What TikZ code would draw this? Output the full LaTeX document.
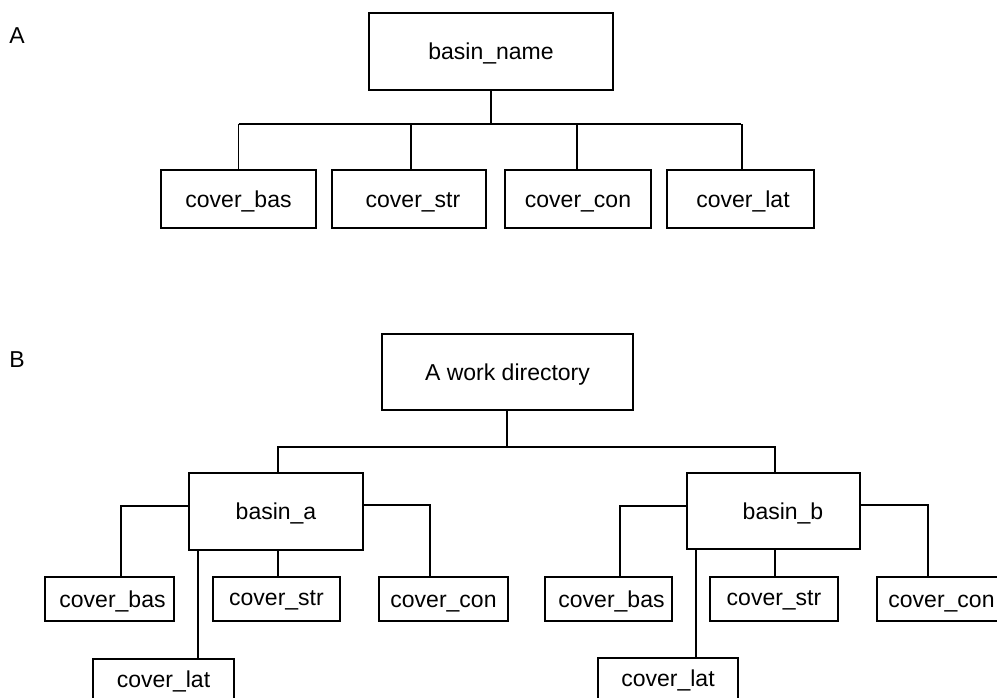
\documentclass[tikz,border=0pt]{standalone}
\usepackage{fontspec}
\setmainfont{Liberation Sans}
\begin{document}
\begin{tikzpicture}[x=1pt,y=-1pt,
  box/.style={draw=black,line width=1.6pt,inner sep=0pt,minimum width=#1,text height=16.5pt,text depth=0pt,font=\fontsize{23}{27}\selectfont},
  conn/.style={draw=black,line width=1.1pt},
  lbl/.style={font=\fontsize{23}{27}\selectfont,inner sep=0pt}]
\useasboundingbox (0,0) rectangle (997,697);
\clip (0,0) rectangle (997,697);
\fill[white] (0,0) rectangle (997,697);
% Part A
\node[lbl] (lblA) at (17,36) {A};
\node[box=244pt,minimum height=77pt] (bn) at (491,51.5) {basin\_name};
\node[box=155pt,minimum height=58pt] (cbas) at (238.5,199) {cover\_bas};
\node[box=154pt,minimum height=58pt] (cstr) at (409,199) {\hspace*{8pt}cover\_str};
\node[box=146pt,minimum height=58pt] (ccon) at (578,199) {cover\_con};
\node[box=147pt,minimum height=58pt] (clat) at (740.5,199) {\hspace*{5pt}cover\_lat};
\coordinate (busA) at (491,124);
\draw[conn] (bn.south) -- (busA);
\draw[conn] (cbas.north |- busA) -- (busA -| clat.north);
\draw[conn] (cbas.north |- busA) -- (cbas.north);
\draw[conn] (busA -| 411,0) -- (cstr.north -| 411,0);
\draw[conn] (busA -| 577,0) -- (ccon.north -| 577,0);
\draw[conn] (busA -| 742,0) -- (clat.north -| 742,0);
% Part B
\node[lbl] (lblB) at (17,360) {B};
\node[box=251pt,minimum height=76pt] (wd) at (507.5,372) {A work directory};
\coordinate (busB) at (507,447);
\node[box=174pt,minimum height=77pt] (ba) at (276,511.5) {basin\_a};
\node[box=173pt,minimum height=76pt] (bb) at (773.5,511) {\hspace*{19pt}basin\_b};
\node[box=129pt,minimum height=44pt] (cbasa) at (109.5,599) {\hspace*{6pt}cover\_bas};
\node[box=127pt,minimum height=44pt] (cstra) at (276.5,599) {\raisebox{2pt}{cover\_str}};
\node[box=129pt,minimum height=44pt] (ccona) at (443.5,599) {cover\_con};
\node[box=141pt,minimum height=44pt] (clata) at (163.5,681) {\raisebox{2pt}{cover\_lat}};
\node[box=127pt,minimum height=44pt] (cbasb) at (608.5,599) {\hspace*{6pt}cover\_bas};
\node[box=128pt,minimum height=44pt] (cstrb) at (774,599) {\raisebox{2pt}{cover\_str}};
\node[box=129pt,minimum height=44pt] (cconb) at (941.5,599) {cover\_con};
\node[box=140pt,minimum height=44pt] (clatb) at (668,680) {\raisebox{2pt}{cover\_lat}};
\draw[conn] (wd.south -| busB) -- (busB);
\draw[conn] (ba.north -| 278,0) |- (busB) -| (bb.north -| 775,0);
% basin_a children
\draw[conn] (ba.west |- 0,506) -| (cbasa.north -| 121,0);
\draw[conn] (ba.east |- 0,505) -| (ccona.north -| 430,0);
\draw[conn] (ba.south -| 278,0) -- (cstra.north -| 278,0);
\draw[conn] (ba.south -| 198,0) -- (clata.north -| 198,0);
% basin_b children
\draw[conn] (bb.west |- 0,506) -| (cbasb.north -| 620,0);
\draw[conn] (bb.east |- 0,505) -| (cconb.north -| 928,0);
\draw[conn] (bb.south -| 775,0) -- (cstrb.north -| 775,0);
\draw[conn] (bb.south -| 696,0) -- (clatb.north -| 696,0);
\end{tikzpicture}
\end{document}
